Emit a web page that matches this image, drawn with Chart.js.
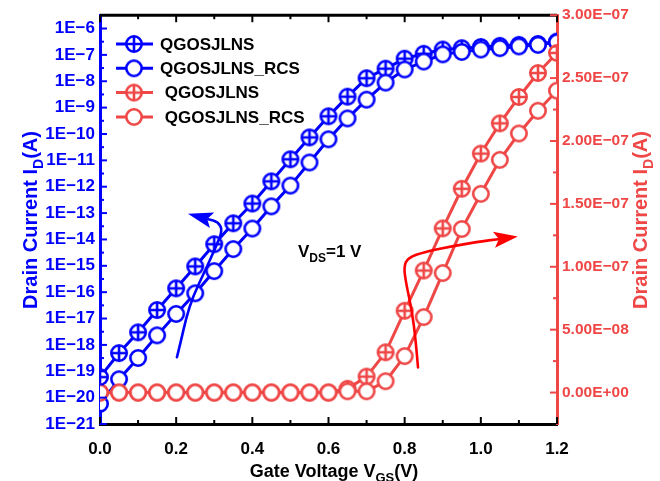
<!DOCTYPE html>
<html>
<head>
<meta charset="utf-8">
<script src="https://cdn.jsdelivr.net/npm/chart.js@4.4.1/dist/chart.umd.min.js"></script>
<style>
  html, body { margin: 0; padding: 0; background: #fff; }
  #wrap { width: 660px; height: 481px; }
</style>
</head>
<body>
<div id="wrap"><canvas id="chart" width="660" height="481"></canvas></div>
<script>
// Gate voltage sweep (V)
const gateVoltage = [0, 0.05, 0.1, 0.15, 0.2, 0.25, 0.3, 0.35, 0.4, 0.45, 0.5, 0.55, 0.6,
  0.65, 0.7, 0.75, 0.8, 0.85, 0.9, 0.95, 1.0, 1.05, 1.1, 1.15, 1.2];

// Drain current, log scale (left axis)
const logCurrentQ = [6.0e-20, 4.9e-19, 3.0e-18, 2.1e-17, 1.4e-16, 9.5e-16, 6.6e-15, 4.1e-14,
  2.3e-13, 1.6e-12, 1.1e-11, 7.4e-11, 4.7e-10, 2.6e-9, 1.3e-8, 3.0e-8, 7.2e-8, 1.1e-7,
  1.6e-7, 1.8e-7, 2.0e-7, 2.2e-7, 2.4e-7, 2.6e-7, 3.2e-7];
const logCurrentRCS = [5.8e-21, 5.0e-20, 3.2e-19, 2.3e-18, 1.5e-17, 9.1e-17, 6.3e-16, 4.3e-15,
  2.6e-14, 1.8e-13, 1.1e-12, 8.3e-12, 6.3e-11, 3.9e-10, 2.0e-9, 8.9e-9, 2.8e-8, 5.6e-8,
  1.05e-7, 1.3e-7, 1.6e-7, 1.8e-7, 2.1e-7, 2.4e-7, 3.0e-7];

// Drain current, linear scale (right axis)
const linCurrentQ = [0, 0, 0, 0, 0, 0, 0, 0, 0, 0, 0, 0, 0,
  0.3e-8, 1.27e-8, 3.2e-8, 6.5e-8, 9.7e-8, 1.305e-7, 1.62e-7, 1.9e-7, 2.14e-7, 2.35e-7, 2.54e-7, 2.7e-7];
const linCurrentRCS = [0, 0, 0, 0, 0, 0, 0, 0, 0, 0, 0, 0, 0,
  0.1e-8, 0.1e-8, 0.9e-8, 2.9e-8, 6.0e-8, 9.5e-8, 1.3e-7, 1.58e-7, 1.85e-7, 2.06e-7, 2.24e-7, 2.4e-7];

const seriesLabels = ["QGOSJLNS", "QGOSJLNS_RCS", " QGOSJLNS", " QGOSJLNS_RCS"];

const xTicks = [0, 0.2, 0.4, 0.6, 0.8, 1.0, 1.2];
const xTickLabels = ["0.0", "0.2", "0.4", "0.6", "0.8", "1.0", "1.2"];
const xMinorTicks = [0.1, 0.3, 0.5, 0.7, 0.9, 1.1];

const leftTicks = [1e-21, 1e-20, 1e-19, 1e-18, 1e-17, 1e-16, 1e-15, 1e-14, 1e-13, 1e-12,
  1e-11, 1e-10, 1e-9, 1e-8, 1e-7, 1e-6];
const leftTickLabels = ["1E\u221221", "1E\u221220", "1E\u221219", "1E\u221218", "1E\u221217",
  "1E\u221216", "1E\u221215", "1E\u221214", "1E\u221213", "1E\u221212", "1E\u221211",
  "1E\u221210", "1E\u22129", "1E\u22128", "1E\u22127", "1E\u22126"];

const rightTicks = [0, 5e-8, 1e-7, 1.5e-7, 2e-7, 2.5e-7, 3e-7];
const rightTickLabels = ["0.00E+00", "5.00E\u221208", "1.00E\u221207", "1.50E\u221207",
  "2.00E\u221207", "2.50E\u221207", "3.00E\u221207"];
const rightMinorTicks = [2.5e-8, 7.5e-8, 1.25e-7, 1.75e-7, 2.25e-7, 2.75e-7];

// annotation arrows (x in V, y in A on the matching axis)
const blueArrowPath = [[0.202, 3.4e-19], [0.213, 1.5e-18], [0.226, 1.0e-17], [0.244, 6.9e-17],
  [0.276, 6.6e-16], [0.305, 5.5e-15], [0.322, 2.2e-14], [0.31, 4.6e-14],
  [0.231, 9.5e-14]];
const redArrowPath = [[0.835, 2.0e-8], [0.829, 4.2e-8], [0.819, 6.5e-8], [0.803, 8.8e-8],
  [0.798, 1.0e-7], [0.808, 1.07e-7], [0.853, 1.12e-7], [0.919, 1.16e-7], [0.997, 1.2e-7],
  [1.097, 1.24e-7]];

const BLUE = "#0000ff";
const RED = "#ef4646";
const FONT = "'Liberation Sans', Arial, Helvetica, sans-serif";

// circle marker, optionally with a plus inside
function makeMarker(color, crossed) {
  const r = 7.7, lw = 2.6;
  const size = 22;
  const c = document.createElement("canvas");
  c.width = size;
  c.height = size;
  const g = c.getContext("2d");
  const m = size / 2;
  g.lineWidth = lw;
  g.strokeStyle = color;
  g.fillStyle = "#fff";
  g.beginPath();
  g.arc(m, m, r, 0, Math.PI * 2);
  g.fill();
  g.stroke();
  if (crossed) {
    g.beginPath();
    g.moveTo(m - r, m);
    g.lineTo(m + r, m);
    g.moveTo(m, m - r);
    g.lineTo(m, m + r);
    g.stroke();
  }
  return c;
}

const markers = {
  blueCross: makeMarker(BLUE, true),
  blueOpen: makeMarker(BLUE, false),
  redCross: makeMarker(RED, true),
  redOpen: makeMarker(RED, false),
};

function points(values) {
  return gateVoltage.map((x, i) => ({ x: x, y: values[i] }));
}

function series(label, values, color, marker, axis) {
  return {
    label: label,
    data: points(values),
    yAxisID: axis,
    borderColor: color,
    backgroundColor: color,
    borderWidth: 3,
    pointStyle: marker,
    pointRadius: 8,
    pointHoverRadius: 8,
    tension: 0,
    fill: false,
  };
}

// first dataset is drawn on top
const datasets = [
  series(seriesLabels[3], linCurrentRCS, RED, markers.redOpen, "y1"),
  series(seriesLabels[2], linCurrentQ, RED, markers.redCross, "y1"),
  series(seriesLabels[1], logCurrentRCS, BLUE, markers.blueOpen, "y"),
  series(seriesLabels[0], logCurrentQ, BLUE, markers.blueCross, "y"),
];

// text with subscript parts: [[text, isSub], ...]
function drawRich(ctx, parts, x, y, size, color, align) {
  const subSize = Math.round(size * 0.7);
  ctx.save();
  ctx.fillStyle = color;
  ctx.textBaseline = "alphabetic";
  ctx.textAlign = "left";
  let total = 0;
  parts.forEach((p) => {
    ctx.font = "bold " + (p[1] ? subSize : size) + "px " + FONT;
    total += ctx.measureText(p[0]).width;
  });
  let cx = align === "left" ? x : x - total / 2;
  parts.forEach((p) => {
    ctx.font = "bold " + (p[1] ? subSize : size) + "px " + FONT;
    ctx.fillText(p[0], cx, y + (p[1] ? size * 0.3 : 0));
    cx += ctx.measureText(p[0]).width;
  });
  ctx.restore();
}

function drawRotated(ctx, parts, x, y, size, color) {
  ctx.save();
  ctx.translate(x, y);
  ctx.rotate(-Math.PI / 2);
  drawRich(ctx, parts, 0, 0, size, color, "center");
  ctx.restore();
}

function drawArrow(ctx, chart, path, yScale, color, headLen, headW) {
  const xs = chart.scales.x;
  const ys = chart.scales[yScale];
  const p = path.map((d) => [xs.getPixelForValue(d[0]), ys.getPixelForValue(d[1])]);
  const tip = p[p.length - 1];
  const prev = p[p.length - 2];
  const dx = tip[0] - prev[0], dy = tip[1] - prev[1];
  const len = Math.hypot(dx, dy);
  const ux = dx / len, uy = dy / len;
  const base = [tip[0] - ux * headLen, tip[1] - uy * headLen];

  ctx.save();
  ctx.strokeStyle = color;
  ctx.fillStyle = color;
  ctx.lineWidth = 2.6;
  ctx.lineJoin = "round";
  ctx.lineCap = "round";
  const line = p.slice(0, -1).concat([[base[0] + ux * 4, base[1] + uy * 4]]);
  ctx.beginPath();
  ctx.moveTo(line[0][0], line[0][1]);
  for (let i = 1; i < line.length - 1; i++) {
    const mx = (line[i][0] + line[i + 1][0]) / 2;
    const my = (line[i][1] + line[i + 1][1]) / 2;
    ctx.quadraticCurveTo(line[i][0], line[i][1], mx, my);
  }
  ctx.lineTo(line[line.length - 1][0], line[line.length - 1][1]);
  ctx.stroke();

  ctx.beginPath();
  ctx.moveTo(tip[0], tip[1]);
  ctx.lineTo(base[0] - uy * headW, base[1] + ux * headW);
  ctx.lineTo(base[0] + ux * 5, base[1] + uy * 5);
  ctx.lineTo(base[0] + uy * headW, base[1] - ux * headW);
  ctx.closePath();
  ctx.fill();
  ctx.restore();
}

const decorPlugin = {
  id: "decor",
  afterDatasetsDraw(chart) {
    const ctx = chart.ctx;
    drawArrow(ctx, chart, blueArrowPath, "y", BLUE, 25, 8);
    drawArrow(ctx, chart, redArrowPath, "y1", "#ff0000", 24, 8);
    drawRich(ctx, [["V", false], ["DS", true], ["=1 V", false]], 298, 257, 17, "#000", "left");
  },
  afterDraw(chart) {
    const ctx = chart.ctx;
    const area = chart.chartArea;
    const xs = chart.scales.x, ys = chart.scales.y, ys1 = chart.scales.y1;

    ctx.save();
    // top frame
    ctx.strokeStyle = "#000";
    ctx.lineWidth = 3;
    ctx.beginPath();
    ctx.moveTo(area.left, area.top);
    ctx.lineTo(area.right, area.top);
    ctx.stroke();

    // inward tick marks
    ctx.lineWidth = 2;
    const tick = (x1, y1, x2, y2) => {
      ctx.beginPath();
      ctx.moveTo(x1, y1);
      ctx.lineTo(x2, y2);
      ctx.stroke();
    };
    xTicks.forEach((v) => {
      const px = xs.getPixelForValue(v);
      tick(px, area.bottom, px, area.bottom - 7);
      tick(px, area.top, px, area.top + 7);
    });
    xMinorTicks.forEach((v) => {
      const px = xs.getPixelForValue(v);
      tick(px, area.bottom, px, area.bottom - 4);
      tick(px, area.top, px, area.top + 4);
    });

    ctx.strokeStyle = BLUE;
    leftTicks.forEach((v, i) => {
      const py = ys.getPixelForValue(v);
      tick(area.left, py, area.left + 7, py);
      if (i < leftTicks.length - 1) {
        const pm = ys.getPixelForValue(Math.sqrt(v * leftTicks[i + 1]));
        tick(area.left, pm, area.left + 4, pm);
      }
    });

    ctx.strokeStyle = RED;
    rightTicks.forEach((v) => {
      const py = ys1.getPixelForValue(v);
      tick(area.right, py, area.right - 7, py);
    });
    rightMinorTicks.forEach((v) => {
      const py = ys1.getPixelForValue(v);
      tick(area.right, py, area.right - 4, py);
    });
    ctx.restore();

    // axis titles
    drawRich(ctx, [["Gate Voltage V", false], ["GS", true], ["(V)", false]], 334, 477, 18, "#000", "center");
    drawRotated(ctx, [["Drain Current I", false], ["D", true], ["(A)", false]], 37, 220, 20, BLUE);
    drawRotated(ctx, [["Drain Current I", false], ["D", true], ["(A)", false]], 647, 220, 20, RED);

    // legend
    const entries = [
      [seriesLabels[0], BLUE, markers.blueCross],
      [seriesLabels[1], BLUE, markers.blueOpen],
      [seriesLabels[2], RED, markers.redCross],
      [seriesLabels[3], RED, markers.redOpen],
    ];
    ctx.save();
    entries.forEach((e, i) => {
      const y = 44 + i * 24.3;
      ctx.strokeStyle = e[1];
      ctx.lineWidth = 3;
      ctx.beginPath();
      ctx.moveTo(116, y);
      ctx.lineTo(153, y);
      ctx.stroke();
      ctx.drawImage(e[2], 134 - e[2].width / 2, y - e[2].height / 2);
      ctx.fillStyle = "#000";
      ctx.font = "bold 17px " + FONT;
      ctx.textBaseline = "middle";
      ctx.textAlign = "left";
      ctx.fillText(e[0], 160, y + 1);
    });
    ctx.restore();
  },
};

const tickFont = { family: FONT, size: 17, weight: "bold" };

new Chart(document.getElementById("chart"), {
  type: "line",
  data: { datasets: datasets },
  options: {
    responsive: false,
    animation: false,
    events: [],
    layout: { padding: { top: 14, left: 0, right: 0, bottom: 0 } },
    plugins: { legend: { display: false }, tooltip: { enabled: false } },
    scales: {
      x: {
        type: "linear",
        min: 0,
        max: 1.2,
        afterBuildTicks: (s) => { s.ticks = xTicks.map((v) => ({ value: v })); },
        afterFit: (s) => { s.height = 57; },
        grid: { display: false, drawTicks: false },
        border: { display: true, color: "#000", width: 3 },
        ticks: {
          color: "#000",
          font: tickFont,
          padding: 15,
          maxRotation: 0,
          autoSkip: false,
          callback: (v, i) => xTickLabels[i],
        },
      },
      y: {
        type: "logarithmic",
        position: "left",
        min: 1e-21,
        max: 3.2e-6,
        afterBuildTicks: (s) => { s.ticks = leftTicks.map((v) => ({ value: v })); },
        afterFit: (s) => { s.width = 100; },
        grid: { display: false, drawTicks: false },
        border: { display: true, color: BLUE, width: 3 },
        ticks: {
          color: BLUE,
          font: tickFont,
          padding: 5,
          autoSkip: false,
          callback: (v, i) => leftTickLabels[i],
        },
      },
      y1: {
        type: "linear",
        position: "right",
        min: -2.5e-8,
        max: 3e-7,
        afterBuildTicks: (s) => { s.ticks = rightTicks.map((v) => ({ value: v })); },
        afterFit: (s) => { s.width = 103; },
        grid: { display: false, drawTicks: false },
        border: { display: true, color: RED, width: 3 },
        ticks: {
          color: RED,
          font: { family: FONT, size: 15.5, weight: "bold" },
          padding: 5,
          autoSkip: false,
          callback: (v, i) => rightTickLabels[i],
        },
      },
    },
  },
  plugins: [decorPlugin],
});
</script>
</body>
</html>
